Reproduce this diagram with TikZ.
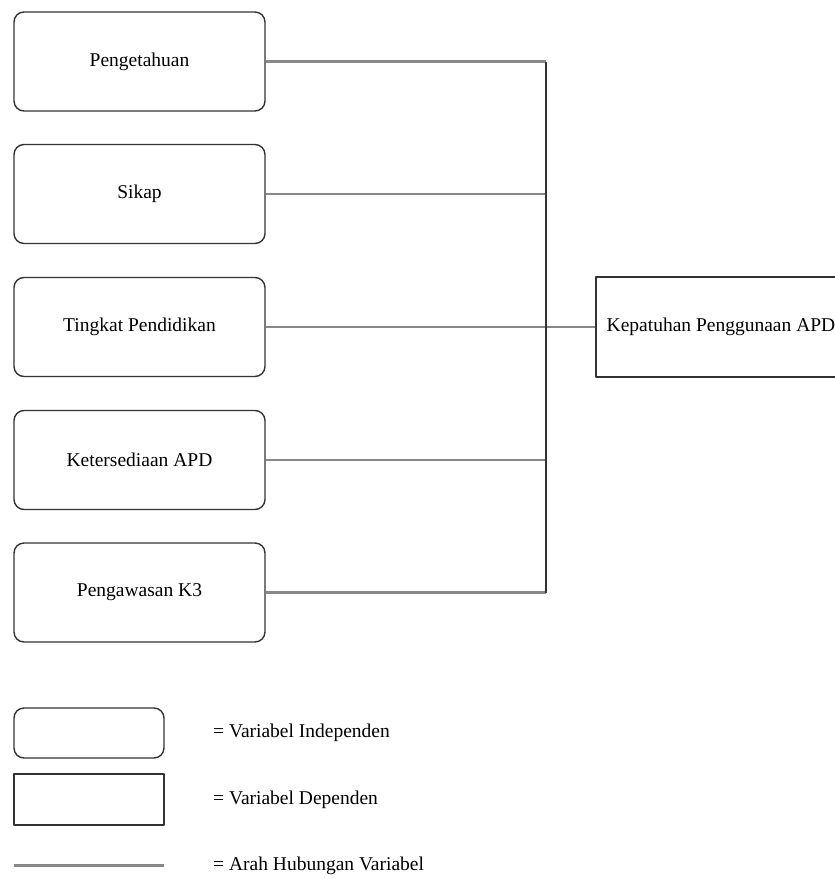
\documentclass[tikz,border=0pt]{standalone}
\usepackage{fontspec}
\setmainfont{Liberation Serif}
\definecolor{linkgray}{HTML}{888888}
\definecolor{edgegray}{HTML}{333333}
\tikzset{
	indep/.style={draw=edgegray, line width=1.4pt, rounded corners=10pt, minimum width=251pt, minimum height=99pt, inner sep=0pt},
	dep/.style={draw=edgegray, line width=1.4pt, minimum width=250pt, minimum height=100pt, inner sep=0pt},
	link/.style={draw=linkgray, line width=2.5pt},
	trunk/.style={draw=edgegray, line width=2pt}
}
\begin{document}
\begin{tikzpicture}[x=1pt, y=-1pt, font=\fontsize{19.5}{23}\selectfont, line join=round]
			\useasboundingbox (0,0) rectangle (835,879);
			\begin{scope}
			\clip (0,0) rectangle (835,879);
			
			\node[indep] (P) at (139.5,61.5) {Pengetahuan};
			\node[indep] (S) at (139.5,194) {Sikap};
			\node[indep] (T) at (139.5,327) {Tingkat Pendidikan};
			\node[indep] (K) at (139.5,460) {Ketersediaan APD};
			\node[indep] (W) at (139.5,592.5) {Pengawasan K3};
			\node[dep] (Y) at (721,327) {Kepatuhan Penggunaan APD};
			
			\coordinate (jP) at (546,61.5);
			\coordinate (jS) at (546,194);
			\coordinate (jK) at (546,460);
			\coordinate (jW) at (546,592.5);
			
			\draw[link] (P.east) -- (jP);
			\draw[link] (S.east) -- (jS);
			\draw[link] (T.east) -- (Y.west);
			\draw[link] (K.east) -- (jK);
			\draw[link] (W.east) -- (jW);
			\draw[trunk] (jP) -- (jW);
			\end{scope}
			
			% keterangan
			\node[indep, minimum width=150pt, minimum height=50pt] (LI) at (89,733) {};
			\node[dep, minimum width=150pt, minimum height=51pt] (LD) at (89,799.5) {};
			\coordinate (La) at (14,865);
			\coordinate (Lb) at (164,865);
			\draw[link, line width=3pt] (La) -- (Lb);
			
			\node[anchor=west, inner sep=0pt] (tI) at (213,733) {= Variabel Independen};
			\node[anchor=west, inner sep=0pt] (tD) at (213,800) {= Variabel Dependen};
			\node[anchor=west, inner sep=0pt] (tA) at (213,866) {= Arah Hubungan Variabel};
		\end{tikzpicture}
\end{document}
